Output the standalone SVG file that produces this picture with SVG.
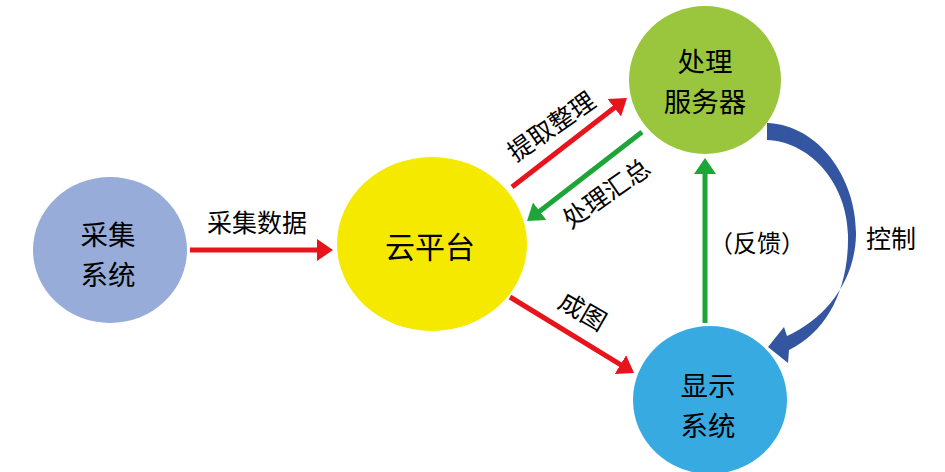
<svg xmlns="http://www.w3.org/2000/svg" width="945" height="472" viewBox="0 0 945 472">
  <defs>
    <style>
      text { font-family: "Noto Sans CJK SC", "Noto Sans", sans-serif; fill: #000; text-anchor: middle; }
      .node { font-size: 30px; }
      .node2 { font-size: 27.5px; }
      .lbl { font-size: 25px; }
      .red { stroke: #e8141b; stroke-width: 5; fill: none; }
      .grn { stroke: #1ea538; stroke-width: 5; fill: none; }
    </style>
    <marker id="ahRed" markerUnits="userSpaceOnUse" markerWidth="20" markerHeight="24" viewBox="0 -12 20 24" refX="2" refY="0" orient="auto">
      <path d="M0,-11 L16,0 L0,11 Z" fill="#e8141b"/>
    </marker>
    <marker id="ahGrn" markerUnits="userSpaceOnUse" markerWidth="20" markerHeight="24" viewBox="0 -12 20 24" refX="2" refY="0" orient="auto">
      <path d="M0,-11 L16,0 L0,11 Z" fill="#1ea538"/>
    </marker>
  </defs>
  <rect width="945" height="472" fill="#fff"/>

  <g id="connectors">
    <line class="red" x1="190" y1="250" x2="319" y2="250" marker-end="url(#ahRed)"/>
    <line class="red" x1="512" y1="187" x2="615.9" y2="106.6" marker-end="url(#ahRed)"/>
    <line class="grn" x1="642" y1="132" x2="538.1" y2="212.4" marker-end="url(#ahGrn)"/>
    <line class="red" x1="510" y1="297" x2="622.1" y2="365.7" marker-end="url(#ahRed)"/>
    <line class="grn" x1="705" y1="323" x2="705" y2="172" marker-end="url(#ahGrn)"/>
    <path d="M767,123 C820,125 857,180 856,235 C855,280 827,318 787,336 L784,327 L768,347 L788,363 L789,350 C830,330 849,285 848,235 C847,185 812,142 767,140 Z" fill="#34559f"/>
    <text class="lbl" x="257" y="232">采集数据</text>
    <text class="lbl" transform="translate(551,126) rotate(-35)" y="9.5">提取整理</text>
    <text class="lbl" transform="translate(606,193) rotate(-35)" y="9.5">处理汇总</text>
    <text class="lbl" transform="translate(583,311) rotate(30)" y="9.5">成图</text>
    <text class="lbl" x="757" y="252" style="font-size:24px">（反馈）</text>
    <text class="lbl" x="891" y="248">控制</text>
  </g>

  <g id="node-collect">
    <ellipse cx="110" cy="250" rx="77" ry="73" fill="#97acd8"/>
    <text class="node2" x="108" y="245">采集</text>
    <text class="node2" x="108" y="285">系统</text>
  </g>
  <g id="node-cloud">
    <ellipse cx="432" cy="244" rx="95" ry="87" fill="#f6e900"/>
    <text class="node" x="430" y="258">云平台</text>
  </g>
  <g id="node-server">
    <ellipse cx="705" cy="80" rx="76" ry="74" fill="#9ac63e"/>
    <text class="node2" x="705" y="72">处理</text>
    <text class="node2" x="705" y="112">服务器</text>
  </g>
  <g id="node-display">
    <ellipse cx="710" cy="400" rx="77" ry="74" fill="#38aae2"/>
    <text class="node2" x="708" y="396">显示</text>
    <text class="node2" x="708" y="436">系统</text>
  </g>
</svg>
